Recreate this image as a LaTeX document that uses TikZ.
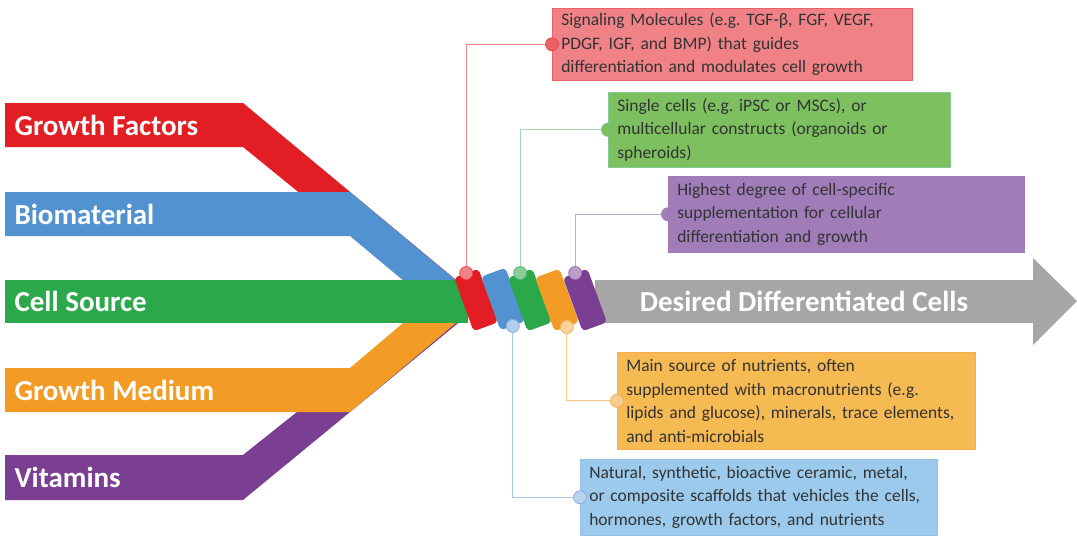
\documentclass[tikz,border=0pt]{standalone}
\usepackage{fontspec}
\setmainfont{Carlito}
\frenchspacing

\definecolor{gfRed}{RGB}{226,30,36}
\definecolor{bmBlue}{RGB}{82,146,208}
\definecolor{csGreen}{RGB}{42,168,74}
\definecolor{gmOrange}{RGB}{242,155,37}
\definecolor{vtPurple}{RGB}{122,63,146}
\definecolor{outGray}{RGB}{166,166,166}
\definecolor{boxRed}{RGB}{240,130,135}
\definecolor{boxGreen}{RGB}{125,192,95}
\definecolor{boxPurple}{RGB}{160,125,185}
\definecolor{boxOrange}{RGB}{246,186,82}
\definecolor{boxBlue}{RGB}{155,202,236}

\begin{document}
\begin{tikzpicture}[x=1pt,y=-1pt,
    label/.style={anchor=west, text=white, font=\bfseries\fontsize{29}{32}\selectfont},
    tab/.style={rotate=20, minimum width=26pt, minimum height=57pt, rounded corners=4pt, inner sep=0pt},
    dot/.style={circle, minimum size=13pt, inner sep=0pt, draw, line width=0.8pt},
    info/.style={anchor=north west, align=left, inner xsep=9pt, inner ysep=3pt, draw, line width=0.6pt,
      text=black!80, font=\fontsize{17.5}{23.5}\selectfont},
    link/.style={line width=0.9pt}]
  \useasboundingbox (0,0) rectangle (1077,536);

  \fill[gfRed] (5,103) -- (243,103) -- (485,304) -- (436,304) -- (243,147) -- (5,147) -- cycle;
  \fill[bmBlue] (5,192) -- (350,192) -- (482,302) -- (429,302) -- (350,236) -- (5,236) -- cycle;
  \fill[vtPurple] (5,455) -- (243,455) -- (436,301) -- (485,301) -- (243,500) -- (5,500) -- cycle;
  \fill[gmOrange] (5,368) -- (350,368) -- (429,301) -- (482,301) -- (350,412) -- (5,412) -- cycle;
  \fill[csGreen] (5,280) rectangle (468,323);

  \node[label] (lGF) at (11,125) {Growth Factors};
  \node[label] (lBM) at (11,214) {Biomaterial};
  \node[label] (lCS) at (11,301) {Cell Source};
  \node[label] (lGM) at (11,390) {Growth Medium};
  \node[label] (lVT) at (11,477) {Vitamins};

  \fill[outGray] (595,280) -- (1033,280) -- (1033,258) -- (1077,301) -- (1033,345) -- (1033,323) -- (595,323) -- cycle;
  \node[text=white, font=\bfseries\fontsize{29}{32}\selectfont] (out) at (804,301) {Desired Differentiated Cells};

  \node[tab, fill=gfRed] (tR) at (476,300) {};
  \node[tab, fill=bmBlue] (tB) at (503,299) {};
  \node[tab, fill=csGreen] (tG) at (530,300) {};
  \node[tab, fill=gmOrange] (tO) at (557,300) {};
  \node[tab, fill=vtPurple] (tP) at (585,300) {};

  \node[info, fill=boxRed, draw=gfRed!70, text width=342pt, minimum height=72pt] (bR) at (552,8)
    {Signaling Molecules (e.g. TGF-β, FGF, VEGF,\\PDGF, IGF, and BMP) that guides\\differentiation and modulates cell growth};
  \node[info, fill=boxGreen, draw=csGreen!60, text width=324pt, minimum height=75pt] (bG) at (608,92)
    {Single cells (e.g. iPSC or MSCs), or\\multicellular constructs (organoids or\\spheroids)};
  \node[info, fill=boxPurple, draw=vtPurple!70, text width=338pt, minimum height=76pt] (bP) at (668,176)
    {Highest degree of cell-specific\\supplementation for cellular\\differentiation and growth};
  \node[info, fill=boxOrange, draw=gmOrange!80, text width=340pt, minimum height=97pt] (bO) at (617,352)
    {Main source of nutrients, often\\supplemented with macronutrients (e.g.\\lipids and glucose), minerals, trace elements,\\and anti-microbials};
  \node[info, fill=boxBlue, draw=bmBlue!60, text width=339pt, minimum height=76pt] (bB) at (580,459)
    {Natural, synthetic, bioactive ceramic, metal,\\or composite scaffolds that vehicles the cells,\\hormones, growth factors, and nutrients};

  \node[dot, fill=gfRed!55, draw=gfRed!80] (dR) at (tR.north) {};
  \node[dot, fill=bmBlue!45, draw=bmBlue!70] (dB) at (tB.south) {};
  \node[dot, fill=csGreen!55, draw=csGreen!80] (dG) at (tG.north) {};
  \node[dot, fill=gmOrange!45, draw=gmOrange!80] (dO) at (tO.south) {};
  \node[dot, fill=vtPurple!50, draw=vtPurple!75] (dP) at (tP.north) {};

  \node[dot, fill=gfRed!70, draw=gfRed!80] (cR) at (bR.west) {};
  \node[dot, fill=boxGreen, draw=csGreen!70] (cG) at (bG.west) {};
  \node[dot, fill=boxPurple, draw=vtPurple!70] (cP) at (bP.west) {};
  \node[dot, fill=gmOrange!50, draw=gmOrange!80] (cO) at (bO.west) {};
  \node[dot, fill=bmBlue!40, draw=bmBlue!70] (cB) at (bB.west) {};

  \draw[link, gfRed!55] (dR) |- (cR);
  \draw[link, csGreen!45] (dG) |- (cG);
  \draw[link, vtPurple!45] (dP) |- (cP);
  \draw[link, gmOrange!55] (dO) |- (cO);
  \draw[link, bmBlue!50] (dB) |- (cB);
\end{tikzpicture}
\end{document}
